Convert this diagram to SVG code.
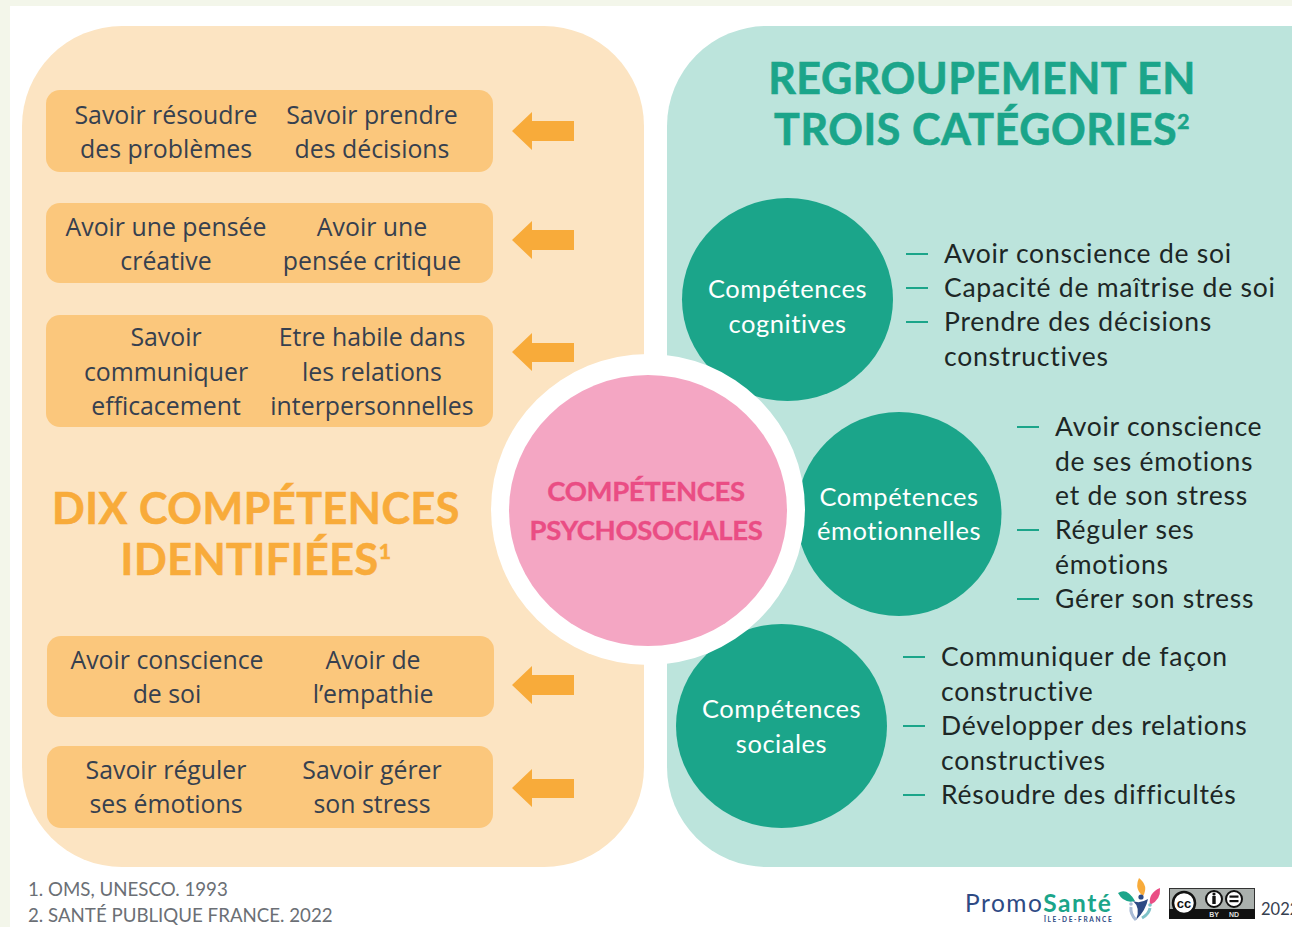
<svg xmlns="http://www.w3.org/2000/svg" width="1292" height="927" viewBox="0 0 1292 927">
<style>
text{font-family:"Open Sans","Noto Sans",sans-serif}
.b{font-size:24.850px;fill:#36404f;text-anchor:middle}
.l{font-family:Lato,sans-serif;font-size:26.500px;fill:#1d2726;letter-spacing:.75px}
.w{font-family:Lato,sans-serif;font-size:25.500px;letter-spacing:.55px;fill:#fff;text-anchor:middle}
.box{fill:#fbc77c}
.h1{font-family:Lato,sans-serif;font-weight:700;font-size:43px;text-anchor:middle;letter-spacing:.55px;stroke-width:.6px}
.c{font-family:Lato,sans-serif;font-weight:700;font-size:27.500px;letter-spacing:-.35px;fill:#ea4d84;stroke:#ea4d84;stroke-width:.35px;text-anchor:middle}
.f{font-family:Lato,sans-serif;font-size:18.700px;fill:#6b6f75}
.t{fill:#1ba58a}
.d{stroke:#1ba58a;stroke-width:2.200}
.a{fill:#f8ab3a}
</style>
<rect width="1292" height="927" fill="#f3f6ea"/>
<rect x="10" y="6" width="1282" height="921" fill="#fff"/>
<g id="panel-left"><rect x="22" y="26" width="622" height="841" rx="100" fill="#fce4c2"/></g>
<g id="panel-right"><rect x="667" y="26" width="725" height="841" rx="100" fill="#bce4dc"/></g>
<g id="box1"><rect class="box" x="46" y="90" width="447" height="82" rx="14"/>
<text class="b" x="166" y="124">Savoir résoudre</text><text class="b" x="166" y="158">des problèmes</text>
<text class="b" x="372" y="124">Savoir prendre</text><text class="b" x="372" y="158">des décisions</text></g>
<g id="box2"><rect class="box" x="46" y="203" width="447" height="80" rx="14"/>
<text class="b" x="166" y="236">Avoir une pensée</text><text class="b" x="166" y="270">créative</text>
<text class="b" x="372" y="236">Avoir une</text><text class="b" x="372" y="270">pensée critique</text></g>
<g id="box3"><rect class="box" x="46" y="315" width="447" height="112" rx="14"/>
<text class="b" x="166" y="346">Savoir</text><text class="b" x="166" y="381">communiquer</text><text class="b" x="166" y="415">efficacement</text>
<text class="b" x="372" y="346">Etre habile dans</text><text class="b" x="372" y="381">les relations</text><text class="b" x="372" y="415">interpersonnelles</text></g>
<g id="box4"><rect class="box" x="47" y="636" width="447" height="81" rx="14"/>
<text class="b" x="167" y="669">Avoir conscience</text><text class="b" x="167" y="703">de soi</text>
<text class="b" x="373" y="669">Avoir de</text><text class="b" x="373" y="703">l’empathie</text></g>
<g id="box5"><rect class="box" x="47" y="746" width="446" height="82" rx="14"/>
<text class="b" x="166" y="779">Savoir réguler</text><text class="b" x="166" y="813">ses émotions</text>
<text class="b" x="372" y="779">Savoir gérer</text><text class="b" x="372" y="813">son stress</text></g>
<g id="connectors">
<path class="a" d="M512 131L532 112V121H574V141H532V150Z"/>
<path class="a" d="M512 240L532 221V230H574V250H532V259Z"/>
<path class="a" d="M512 352L532 333V343H574V362H532V371Z"/>
<path class="a" d="M512 685L532 666V675H574V695H532V704Z"/>
<path class="a" d="M512 788L532 769V779H574V798H532V807Z"/>
</g>
<g id="title-left"><text class="h1" x="256" y="524" fill="#f8ab3a" stroke="#f8ab3a">DIX COMPÉTENCES</text><text class="h1" x="256" y="575" fill="#f8ab3a" stroke="#f8ab3a">IDENTIFIÉES<tspan font-size="21" dy="-16">1</tspan></text></g>
<g id="title-right"><text class="h1" x="982" y="94" fill="#1ba58a" stroke="#1ba58a">REGROUPEMENT EN</text><text class="h1" x="982" y="145" fill="#1ba58a" stroke="#1ba58a" letter-spacing=".8">TROIS CATÉGORIES<tspan font-size="21" dy="-16">2</tspan></text></g>
<g id="cat1"><ellipse class="t" cx="787.500" cy="299.500" rx="105.500" ry="101.500"/><text class="w" x="787.500" y="298">Compétences</text><text class="w" x="787.500" y="332.500">cognitives</text></g>
<g id="cat2"><ellipse class="t" cx="899" cy="514" rx="102.500" ry="102"/><text class="w" x="899" y="506">Compétences</text><text class="w" x="899" y="540">émotionnelles</text></g>
<g id="cat3"><ellipse class="t" cx="781.500" cy="726" rx="105.500" ry="102"/><text class="w" x="781.500" y="718">Compétences</text><text class="w" x="781.500" y="752.500">sociales</text></g>
<g id="center"><ellipse cx="648" cy="509.500" rx="157" ry="155.500" fill="#fff"/><ellipse cx="648" cy="510.500" rx="139" ry="135.500" fill="#f4a6c3"/>
<text class="c" x="646" y="501">COMPÉTENCES</text><text class="c" x="646" y="540">PSYCHOSOCIALES</text></g>
<g id="list1"><path class="d" d="M906 254H928M906 288H928M906 322H928"/>
<text class="l" x="944" y="262.500">Avoir conscience de soi</text><text class="l" x="944" y="296.500">Capacité de maîtrise de soi</text><text class="l" x="944" y="331">Prendre des décisions</text><text class="l" x="944" y="365.500">constructives</text></g>
<g id="list2"><path class="d" d="M1017 427H1039M1017 530H1039M1017 599H1039"/>
<text class="l" x="1055" y="436">Avoir conscience</text><text class="l" x="1055" y="470.500">de ses émotions</text><text class="l" x="1055" y="504.500">et de son stress</text><text class="l" x="1055" y="539">Réguler ses</text><text class="l" x="1055" y="573.500">émotions</text><text class="l" x="1055" y="607.500">Gérer son stress</text></g>
<g id="list3"><path class="d" d="M903 657H925M903 726H925M903 795H925"/>
<text class="l" x="941" y="666">Communiquer de façon</text><text class="l" x="941" y="700.500">constructive</text><text class="l" x="941" y="735">Développer des relations</text><text class="l" x="941" y="769.500">constructives</text><text class="l" x="941" y="803.500">Résoudre des difficultés</text></g>
<g id="footnotes"><text class="f" x="28" y="896">1. OMS, UNESCO. 1993</text><text class="f" x="28" y="922">2. SANTÉ PUBLIQUE FRANCE. 2022</text></g>
<g id="logo">
<text x="965" y="912" style="font-family:Lato,sans-serif;font-size:24.500px;letter-spacing:1.500px" fill="#2d4a84">Promo<tspan fill="#1ba58a" font-weight="700">Santé</tspan></text>
<text x="1044" y="922" style="font-family:Lato,sans-serif;font-size:6.500px;font-weight:700;letter-spacing:1.650px" fill="#2d4a84">ÎLE-DE-FRANCE</text>
<path d="M1118 893Q1127 887 1135 901Q1124 904 1118 893Z" fill="#1ba58a"/>
<path d="M1139 878Q1149 886 1143 896Q1134 889 1139 878Z" fill="#f8ab3a"/>
<path d="M1160 888Q1161 900 1150 905Q1148 893 1160 888Z" fill="#ea4d84"/>
<circle cx="1141" cy="897" r="2.600" fill="#2d4a84"/>
<path d="M1133 901Q1140 904 1148 899Q1146 910 1136 920Q1141 908 1133 901Z" fill="#2d4a84"/>
<circle cx="1131" cy="904" r="1.800" fill="#a9bbd6"/><path d="M1131 907Q1130 914 1136 920" stroke="#a9bbd6" stroke-width="3" fill="none"/>
<circle cx="1150" cy="905" r="1.800" fill="#7fc2c8"/><path d="M1150 908Q1149 914 1142 918" stroke="#7fc2c8" stroke-width="3" fill="none"/>
</g>
<g id="cc">
<rect x="1169.500" y="888.500" width="85" height="30" fill="#aab0ad" stroke="#333" stroke-width="1"/>
<rect x="1169" y="909" width="86" height="10" fill="#111"/>
<circle cx="1184" cy="903" r="11" fill="#fff" stroke="#111" stroke-width="2.500"/>
<text x="1184" y="907.500" text-anchor="middle" style="font-family:'Liberation Sans',sans-serif;font-size:13px;font-weight:700" fill="#111">cc</text>
<circle cx="1214" cy="899" r="8" fill="#fff" stroke="#111" stroke-width="2"/><rect x="1212.300" y="896" width="3.400" height="8" fill="#111"/><circle cx="1214" cy="894" r="1.600" fill="#111"/>
<circle cx="1234" cy="899" r="8" fill="#fff" stroke="#111" stroke-width="2"/><rect x="1229.500" y="895.500" width="9" height="2.200" fill="#111"/><rect x="1229.500" y="900" width="9" height="2.200" fill="#111"/>
<text x="1214" y="917" text-anchor="middle" style="font-family:'Liberation Sans',sans-serif;font-size:7px;font-weight:700" fill="#ddd">BY</text>
<text x="1234" y="917" text-anchor="middle" style="font-family:'Liberation Sans',sans-serif;font-size:7px;font-weight:700" fill="#ddd">ND</text>
<text x="1261" y="915" style="font-family:Lato,sans-serif;font-size:16.500px" fill="#36404f">2022</text>
</g>
</svg>
